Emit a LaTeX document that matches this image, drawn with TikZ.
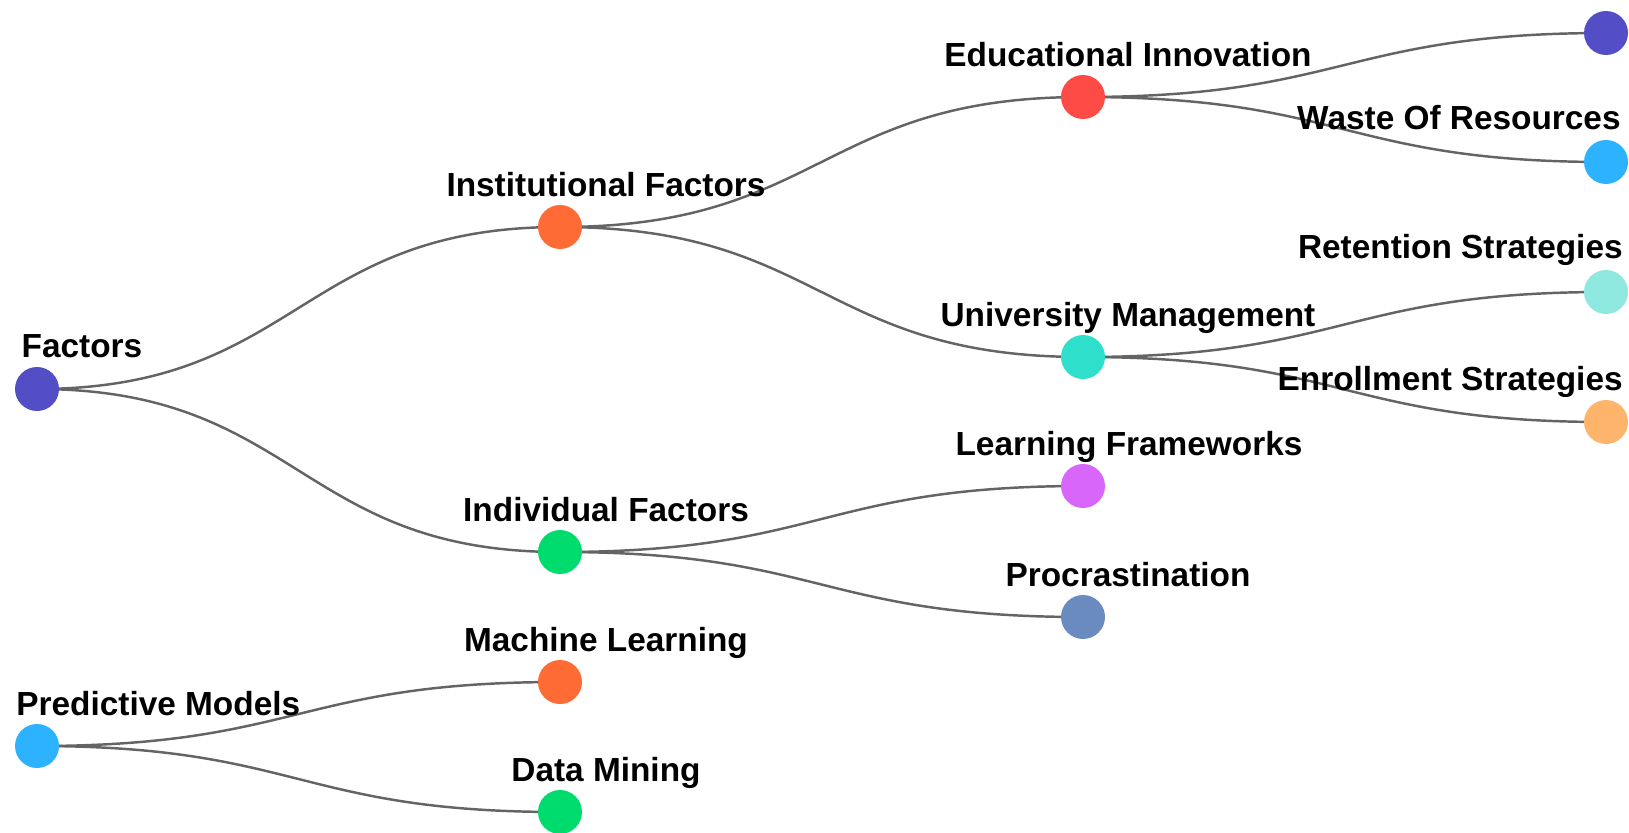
\documentclass[tikz,border=0pt]{standalone}
\usepackage{fontspec}
\setmainfont{Liberation Sans}
\usetikzlibrary{calc,backgrounds}

\definecolor{slate}{RGB}{84,78,198}
\definecolor{tangerine}{RGB}{255,107,53}
\definecolor{mint}{RGB}{0,219,110}
\definecolor{coral}{RGB}{255,75,69}
\definecolor{teal}{RGB}{46,223,203}
\definecolor{orchid}{RGB}{217,102,250}
\definecolor{steel}{RGB}{106,139,192}
\definecolor{sky}{RGB}{44,178,255}
\definecolor{aqua}{RGB}{142,232,223}
\definecolor{apricot}{RGB}{255,180,107}
\definecolor{linkgray}{RGB}{100,100,100}

\begin{document}
\begin{tikzpicture}[x=0.02cm, y=-0.02cm,
    dot/.style={circle, minimum size=0.88cm, inner sep=0pt},
    tag/.style={anchor=base, inner sep=0pt, font=\bfseries\fontsize{19}{22}\selectfont},
    link/.style={draw=linkgray, line width=1.4pt}]
        \useasboundingbox (0,0) rectangle (1629,832);

          % level 0
          \node[dot, fill=slate] (f) at (37,389) {};
          \node[dot, fill=sky] (pm) at (37,746) {};
          % level 1
          \node[dot, fill=tangerine] (inst) at (560,227) {};
          \node[dot, fill=mint] (indiv) at (560,552) {};
          \node[dot, fill=tangerine] (ml) at (560,682) {};
          \node[dot, fill=mint] (dm) at (560,812) {};
          % level 2
          \node[dot, fill=coral] (edu) at (1083,97) {};
          \node[dot, fill=teal] (uni) at (1083,357) {};
          \node[dot, fill=orchid] (learn) at (1083,486) {};
          \node[dot, fill=steel] (procr) at (1083,617) {};
          % level 3
          \node[dot, fill=slate] (top) at (1606,33) {};
          \node[dot, fill=sky] (waste) at (1606,162) {};
          \node[dot, fill=aqua] (ret) at (1606,292) {};
          \node[dot, fill=apricot] (enrol) at (1606,422) {};

          \begin{scope}[on background layer]
            \foreach \a/\b in {f/inst, f/indiv, pm/ml, pm/dm, inst/edu, inst/uni,
                               indiv/learn, indiv/procr, edu/top, edu/waste, uni/ret, uni/enrol}
              \draw[link] (\a.center) .. controls +(261.5,0) and +(-261.5,0) .. (\b.center);
          \end{scope}

          \node[tag] at ($(f)+(45,-32)$) {Factors};
          \node[tag, anchor=base west] at (16,715) {Predictive Models};
          \node[tag] at ($(inst)+(46,-31)$) {Institutional Factors};
          \node[tag] at ($(indiv)+(46,-31)$) {Individual Factors};
          \node[tag] at ($(ml)+(46,-31)$) {Machine Learning};
          \node[tag] at ($(dm)+(46,-31)$) {Data Mining};
          \node[tag] at ($(edu)+(45,-31)$) {Educational Innovation};
          \node[tag] at ($(uni)+(45,-31)$) {University Management};
          \node[tag] at ($(learn)+(46,-31)$) {Learning Frameworks};
          \node[tag] at ($(procr)+(45,-31)$) {Procrastination};
          \node[tag, anchor=base east] at (1621,129) {Waste Of Resources};
          \node[tag, anchor=base east] at (1623,258) {Retention Strategies};
          \node[tag, anchor=base east] at (1623,390) {Enrollment Strategies};

        \end{tikzpicture}
\end{document}
